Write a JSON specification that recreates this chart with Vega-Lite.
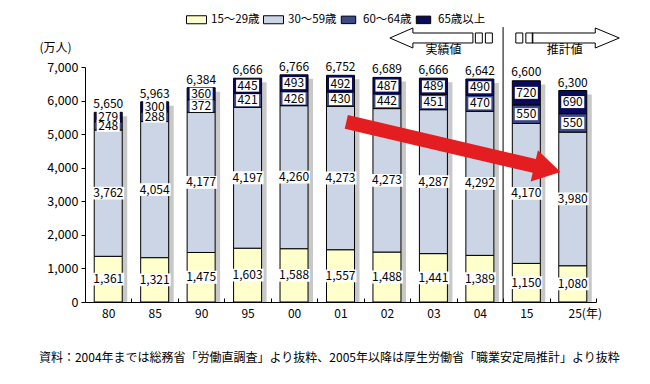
{
  "$schema": "https://vega.github.io/schema/vega-lite/v6.json",
  "width": 511,
  "height": 235,
  "autosize": {"type": "none"},
  "padding": {"left": 85, "top": 67, "right": 54, "bottom": 82},
  "background": "white",
  "config": {
    "font": "Noto Sans CJK JP",
    "view": {"stroke": null},
    "axis": {"domainColor": "black", "tickColor": "black", "labelColor": "black", "titleColor": "black", "grid": false, "labelFontSize": 12},
    "axisY": {"labelOverlap": false, "tickCount": 7}
  },
  "title": {
    "text": "資料：2004年までは総務省「労働直調査」より抜粋、2005年以降は厚生労働省「職業安定局推計」より抜粋",
    "orient": "bottom",
    "anchor": "start",
    "dx": 0,
    "offset": 34,
    "fontSize": 12,
    "fontWeight": "normal",
    "color": "black"
  },
  "datasets": {
    "seg": [
      {"yr": "80", "grp": "15～29歳", "v": 1361}, {"yr": "80", "grp": "30～59歳", "v": 3762}, {"yr": "80", "grp": "60～64歳", "v": 248}, {"yr": "80", "grp": "65歳以上", "v": 279},
      {"yr": "85", "grp": "15～29歳", "v": 1321}, {"yr": "85", "grp": "30～59歳", "v": 4054}, {"yr": "85", "grp": "60～64歳", "v": 288}, {"yr": "85", "grp": "65歳以上", "v": 300},
      {"yr": "90", "grp": "15～29歳", "v": 1475}, {"yr": "90", "grp": "30～59歳", "v": 4177}, {"yr": "90", "grp": "60～64歳", "v": 372}, {"yr": "90", "grp": "65歳以上", "v": 360},
      {"yr": "95", "grp": "15～29歳", "v": 1603}, {"yr": "95", "grp": "30～59歳", "v": 4197}, {"yr": "95", "grp": "60～64歳", "v": 421}, {"yr": "95", "grp": "65歳以上", "v": 445},
      {"yr": "00", "grp": "15～29歳", "v": 1588}, {"yr": "00", "grp": "30～59歳", "v": 4260}, {"yr": "00", "grp": "60～64歳", "v": 426}, {"yr": "00", "grp": "65歳以上", "v": 493},
      {"yr": "01", "grp": "15～29歳", "v": 1557}, {"yr": "01", "grp": "30～59歳", "v": 4273}, {"yr": "01", "grp": "60～64歳", "v": 430}, {"yr": "01", "grp": "65歳以上", "v": 492},
      {"yr": "02", "grp": "15～29歳", "v": 1488}, {"yr": "02", "grp": "30～59歳", "v": 4273}, {"yr": "02", "grp": "60～64歳", "v": 442}, {"yr": "02", "grp": "65歳以上", "v": 487},
      {"yr": "03", "grp": "15～29歳", "v": 1441}, {"yr": "03", "grp": "30～59歳", "v": 4287}, {"yr": "03", "grp": "60～64歳", "v": 451}, {"yr": "03", "grp": "65歳以上", "v": 489},
      {"yr": "04", "grp": "15～29歳", "v": 1389}, {"yr": "04", "grp": "30～59歳", "v": 4292}, {"yr": "04", "grp": "60～64歳", "v": 470}, {"yr": "04", "grp": "65歳以上", "v": 490},
      {"yr": "15", "grp": "15～29歳", "v": 1150}, {"yr": "15", "grp": "30～59歳", "v": 4170}, {"yr": "15", "grp": "60～64歳", "v": 550}, {"yr": "15", "grp": "65歳以上", "v": 720},
      {"yr": "25", "grp": "15～29歳", "v": 1080}, {"yr": "25", "grp": "30～59歳", "v": 3980}, {"yr": "25", "grp": "60～64歳", "v": 550}, {"yr": "25", "grp": "65歳以上", "v": 690}
    ],
    "tot": [
      {"yr": "80", "t": 5650}, {"yr": "85", "t": 5963}, {"yr": "90", "t": 6384}, {"yr": "95", "t": 6666},
      {"yr": "00", "t": 6766}, {"yr": "01", "t": 6752}, {"yr": "02", "t": 6689}, {"yr": "03", "t": 6666},
      {"yr": "04", "t": 6642}, {"yr": "15", "t": 6600}, {"yr": "25", "t": 6300}
    ]
  },
  "layer": [
    {
      "data": {"name": "tot"},
      "mark": {"type": "bar", "width": 28, "color": "#C8C8C8", "xOffset": 5, "yOffset": 4, "clip": true},
      "encoding": {
        "x": {
          "field": "yr", "type": "ordinal",
          "scale": {"domain": ["80", "85", "90", "95", "00", "01", "02", "03", "04", "15", "25"], "paddingInner": 0, "paddingOuter": 0},
          "axis": {
            "title": null, "labelAngle": 0, "tickBand": "extent", "tickSize": -4, "labelPadding": 10,
            "labelExpr": "datum.value == '25' ? '25(年)' : datum.value",
            "labelOffset": {"condition": {"test": "datum.value == '25'", "value": 12}, "value": 0}
          }
        },
        "y": {
          "field": "t", "type": "quantitative",
          "scale": {"domain": [0, 7000], "nice": false},
          "axis": {
            "tickCount": 7, "labelExpr": "format(datum.value, ',')", "labelOverlap": false,
            "tickSize": 4, "labelPadding": 3, "labelFontSize": 12.5,
            "title": "(万人)", "titleAngle": 0, "titleX": -30, "titleY": -20, "titleAlign": "center", "titleBaseline": "middle",
            "titleFontWeight": "normal", "titleFontSize": 12
          }
        }
      }
    },
    {
      "data": {"name": "seg"},
      "mark": {"type": "bar", "width": 28, "stroke": "black", "strokeWidth": 1},
      "encoding": {
        "x": {"field": "yr", "type": "ordinal"},
        "y": {"field": "v", "type": "quantitative", "stack": "zero"},
        "color": {
          "field": "grp", "type": "nominal",
          "scale": {"domain": ["15～29歳", "30～59歳", "60～64歳", "65歳以上"], "range": ["#FFFFCC", "#CCD5E5", "#3D4A8A", "#0B0B5E"]},
          "legend": {
            "title": null, "orient": "none", "legendX": 101, "legendY": -58, "direction": "horizontal",
            "symbolType": "M-1,-0.45L1,-0.45L1,0.45L-1,0.45Z", "symbolSize": 400, "symbolStrokeColor": "black", "symbolStrokeWidth": 1,
            "symbolOpacity": 1, "labelFontSize": 11.5, "labelColor": "black", "columnPadding": 1, "labelOffset": 4
          }
        },
        "order": {"field": "grp"}
      }
    },
    {
      "data": {"name": "seg"},
      "mark": {"type": "point", "filled": true, "fill": "white", "strokeWidth": 0, "opacity": 1, "size": 1024},
      "encoding": {
        "x": {"field": "yr", "type": "ordinal"},
        "y": {"field": "v", "type": "quantitative", "stack": "zero", "bandPosition": 0.5},
        "detail": {"field": "grp"},
        "order": {"field": "grp"},
        "shape": {
          "field": "grp", "type": "nominal", "legend": null,
          "scale": {"domain": ["15～29歳", "30～59歳", "60～64歳", "65歳以上"], "range": ["M-1,-0.4L1,-0.4L1,0.4L-1,0.4Z", "M-1,-0.4L1,-0.4L1,0.4L-1,0.4Z", "M-0.72,-0.375L0.72,-0.375L0.72,0.375L-0.72,0.375Z", "M-0.72,-0.375L0.72,-0.375L0.72,0.375L-0.72,0.375Z"]}
        }
      }
    },
    {
      "data": {"name": "seg"},
      "mark": {"type": "text", "fontSize": 12, "color": "black", "baseline": "middle"},
      "encoding": {
        "x": {"field": "yr", "type": "ordinal"},
        "y": {"field": "v", "type": "quantitative", "stack": "zero", "bandPosition": 0.5},
        "detail": {"field": "grp"},
        "order": {"field": "grp"},
        "text": {"field": "v", "type": "quantitative", "format": ","}
      }
    },
    {
      "data": {"name": "tot"},
      "mark": {"type": "text", "fontSize": 12, "color": "black", "baseline": "middle", "dy": -8},
      "encoding": {
        "x": {"field": "yr", "type": "ordinal"},
        "y": {"field": "t", "type": "quantitative"},
        "text": {"field": "t", "type": "quantitative", "format": ","}
      }
    },
    {
      "data": {"values": [{}]},
      "mark": {"type": "rule", "color": "black", "strokeWidth": 1},
      "encoding": {
        "x": {"datum": "15", "type": "ordinal", "bandPosition": 0},
        "y": {"datum": 0},
        "y2": {"datum": 8190}
      }
    },
    {
      "data": {"values": [{}]},
      "mark": {"type": "point", "filled": true, "fill": "white", "stroke": "black", "strokeWidth": 1, "opacity": 1, "size": 6889, "xOffset": -2,
        "shape": "M-1,0L-0.446,-0.241L-0.446,-0.12L1,-0.12L1,0.12L-0.446,0.12L-0.446,0.241Z"},
      "encoding": {
        "x": {"datum": "03", "type": "ordinal"},
        "y": {"datum": 7864}
      }
    },
    {
      "data": {"values": [{}]},
      "mark": {"type": "point", "filled": true, "fill": "white", "stroke": "black", "strokeWidth": 1, "opacity": 1, "size": 7569, "xOffset": 3,
        "shape": "M1,0L0.448,-0.23L0.448,-0.115L-1,-0.115L-1,0.115L0.448,0.115L0.448,0.23Z"},
      "encoding": {
        "x": {"datum": "25", "type": "ordinal"},
        "y": {"datum": 7864}
      }
    },
    {
      "data": {"values": [{}]},
      "mark": {"type": "point", "filled": false, "fill": null, "stroke": "black", "strokeWidth": 1, "opacity": 1, "size": 289, "xOffset": 4,
        "shape": "M-1,-0.59L-0.18,-0.59L-0.18,0.59L-1,0.59ZM0.18,-0.59L1,-0.59L1,0.59L0.18,0.59Z"},
      "encoding": {
        "x": {"datum": "04", "type": "ordinal"},
        "y": {"datum": 7864}
      }
    },
    {
      "data": {"values": [{}]},
      "mark": {"type": "point", "filled": false, "fill": null, "stroke": "black", "strokeWidth": 1, "opacity": 1, "size": 289, "xOffset": -2,
        "shape": "M-1,-0.59L-0.18,-0.59L-0.18,0.59L-1,0.59ZM0.18,-0.59L1,-0.59L1,0.59L0.18,0.59Z"},
      "encoding": {
        "x": {"datum": "15", "type": "ordinal"},
        "y": {"datum": 7864}
      }
    },
    {
      "data": {"values": [{}]},
      "mark": {"type": "point", "filled": true, "fill": "#E41E20", "strokeWidth": 0, "opacity": 1, "size": 48400, "xOffset": 20, "angle": 13.15,
        "shape": "M-1,-0.064L0.755,-0.064L0.755,-0.145L1,0L0.755,0.145L0.755,0.064L-1,0.064Z"},
      "encoding": {
        "x": {"datum": "03", "type": "ordinal"},
        "y": {"datum": 4617}
      }
    },
    {
      "data": {"values": [{"lab": "実績値"}]},
      "mark": {"type": "text", "fontSize": 12, "color": "black", "baseline": "middle", "dx": 10},
      "encoding": {
        "x": {"datum": "03", "type": "ordinal"},
        "y": {"datum": 7506},
        "text": {"field": "lab"}
      }
    },
    {
      "data": {"values": [{"lab": "推計値"}]},
      "mark": {"type": "text", "fontSize": 12, "color": "black", "baseline": "middle", "dx": -8},
      "encoding": {
        "x": {"datum": "25", "type": "ordinal"},
        "y": {"datum": 7506},
        "text": {"field": "lab"}
      }
    }
  ]
}
